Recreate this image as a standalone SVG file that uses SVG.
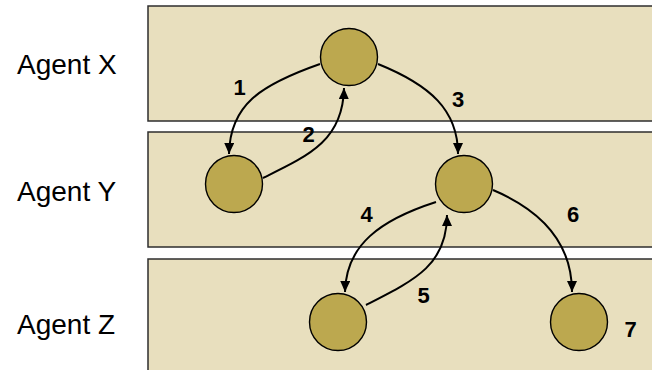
<svg xmlns="http://www.w3.org/2000/svg" width="652" height="370" viewBox="0 0 652 370">
<style>
.lane{fill:#e8dfbe;stroke:#2e2e2e;stroke-width:1.5}
.agent{font-family:"Liberation Sans",Arial,sans-serif;font-size:28px;fill:#000}
.node{fill:#bca84f;stroke:#000;stroke-width:1.4}
.edge{fill:none;stroke:#000;stroke-width:2;marker-end:url(#arr)}
.num{font-family:"Liberation Sans",Arial,sans-serif;font-size:22px;font-weight:bold;fill:#000;text-anchor:middle}
</style>
<defs>
<marker id="arr" markerWidth="12" markerHeight="12" refX="11" refY="5" orient="auto" markerUnits="userSpaceOnUse">
<path d="M0,0 L11,5 L0,10 Z" fill="#000"/>
</marker>
</defs>
<rect width="652" height="370" fill="#fff"/>
<g id="lanes">
<rect id="laneX" class="lane" x="148" y="6" width="520" height="115"/>
<rect id="laneY" class="lane" x="148" y="132" width="520" height="115"/>
<rect id="laneZ" class="lane" x="148" y="259" width="520" height="130"/>
<text class="agent" x="17" y="74">Agent X</text>
<text class="agent" x="17" y="201">Agent Y</text>
<text class="agent" x="17" y="334">Agent Z</text>
</g>
<g id="connectors">
<path class="edge" d="M320,64 C260,85 230,105 229,154"/>
<path class="edge" d="M263,178 C310,155 343,140 344,88"/>
<path class="edge" d="M378,64 C430,85 458,110 458,154"/>
<path class="edge" d="M436,202 C380,220 346,245 345,292"/>
<path class="edge" d="M366,305 C415,280 447,265 447,215"/>
<path class="edge" d="M493,190 C545,212 572,245 572,292"/>
</g>
<g id="nodeX"><circle class="node" cx="349" cy="57" r="28.5"/></g>
<g id="nodeY1"><circle class="node" cx="234" cy="184" r="28.5"/></g>
<g id="nodeY2"><circle class="node" cx="464" cy="184" r="28.5"/></g>
<g id="nodeZ1"><circle class="node" cx="338" cy="322" r="28.5"/></g>
<g id="nodeZ2"><circle class="node" cx="579" cy="322" r="28.5"/></g>
<g id="labels">
<text class="num" x="239.5" y="95">1</text>
<text class="num" x="308.5" y="141.5">2</text>
<text class="num" x="458" y="106.5">3</text>
<text class="num" x="366.5" y="222">4</text>
<text class="num" x="423.5" y="302.5">5</text>
<text class="num" x="573" y="222">6</text>
<text class="num" x="630.5" y="336.5">7</text>
</g>
</svg>
